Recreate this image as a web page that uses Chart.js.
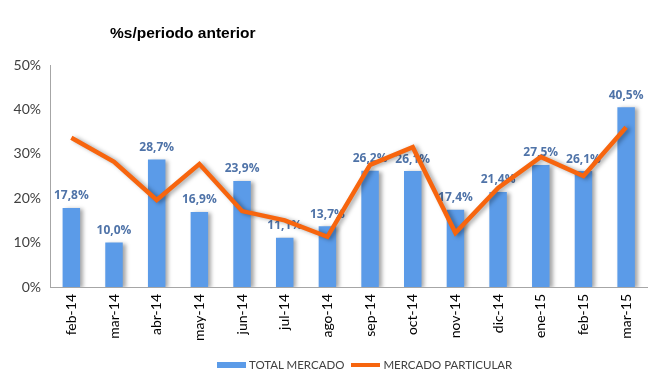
<!DOCTYPE html>
<html>
<head>
<meta charset="utf-8">
<script src="https://cdn.jsdelivr.net/npm/chart.js@4.4.1/dist/chart.umd.min.js"></script>
<style>
    body { margin: 0; background: #fff; }
    #wrap { position: relative; width: 650px; height: 388px; }
    #title { position: absolute; left: 110px; top: 24px; font: bold 15.5px "Liberation Sans", Arial, sans-serif; color: #000; }
    #legend { position: absolute; left: 217px; top: 358px; font: 11.5px Lato, sans-serif; color: #404040; display: flex; align-items: center; }
    .sw { display: inline-block; width: 29px; margin-right: 3px; }
</style>
</head>
<body>
<div id="wrap">
    <canvas id="chart" width="650" height="388"></canvas>
    <div id="title">%s/periodo anterior</div>
    <div id="legend">
        <span class="sw" style="height:6px;background:#5b9be8"></span><span>TOTAL MERCADO</span>
        <span class="sw" style="height:4px;background:#f7650e;margin-left:7px"></span><span>MERCADO PARTICULAR</span>
    </div>
</div>
<script>
const months = ["feb-14", "mar-14", "abr-14", "may-14", "jun-14", "jul-14", "ago-14", "sep-14", "oct-14", "nov-14", "dic-14", "ene-15", "feb-15", "mar-15"];
const totalMercado = [17.8, 10.0, 28.7, 16.9, 23.9, 11.1, 13.7, 26.2, 26.1, 17.4, 21.4, 27.5, 26.1, 40.5];
const mercadoParticular = [33.6, 28.2, 19.6, 27.7, 17.1, 15.0, 11.3, 27.5, 31.5, 12.2, 22.3, 29.3, 25.0, 36.0];
const yTicks = [0, 10, 20, 30, 40, 50];

const fmt = v => v.toFixed(1).replace('.', ',') + '%';

// sombra suave para barras y linea
const shadowPlugin = {
    id: 'shadow',
    beforeDatasetDraw(chart) {
        const ctx = chart.ctx;
        ctx.save();
        ctx.shadowColor = 'rgba(0,0,0,0.35)';
        ctx.shadowBlur = 4;
        ctx.shadowOffsetX = 3;
        ctx.shadowOffsetY = 1;
    },
    afterDatasetDraw(chart) {
        chart.ctx.restore();
    }
};

const labelPlugin = {
    id: 'barLabels',
    afterDatasetDraw(chart, args) {
        if (args.index !== 0) return;
        const ctx = chart.ctx;
        ctx.save();
        ctx.font = 'bold 12px "Open Sans", sans-serif';
        ctx.fillStyle = '#4f73a8';
        ctx.textAlign = 'center';
        ctx.textBaseline = 'bottom';
        args.meta.data.forEach((bar, i) => {
            ctx.fillText(fmt(totalMercado[i]), bar.x, bar.y - 6);
        });
        ctx.restore();
    }
};

new Chart(document.getElementById('chart'), {
    type: 'bar',
    data: {
        labels: months,
        datasets: [
            {
                label: 'TOTAL MERCADO',
                data: totalMercado,
                backgroundColor: '#5b9be8',
                barPercentage: 0.41,
                categoryPercentage: 1,
                order: 1
            },
            {
                type: 'line',
                label: 'MERCADO PARTICULAR',
                data: mercadoParticular,
                borderColor: '#f7650e',
                borderWidth: 4.5,
                pointRadius: 0,
                tension: 0,
                order: 0
            }
        ]
    },
    plugins: [shadowPlugin, labelPlugin],
    options: {
        responsive: false,
        animation: false,
        layout: { padding: { top: 65, right: 2, bottom: 40, left: 0 } },
        plugins: { legend: { display: false }, tooltip: { enabled: false } },
        scales: {
            x: {
                grid: { display: false, drawTicks: false },
                border: { color: '#a6a6a6' },
                ticks: { color: '#000', font: { family: 'Lato', size: 14 }, minRotation: 90, maxRotation: 90, padding: 7 },
                afterFit: s => { s.height = 61; }
            },
            y: {
                min: 0,
                max: 50,
                afterBuildTicks: s => { s.ticks = yTicks.map(v => ({ value: v })); },
                grid: { display: false, drawOnChartArea: false, drawTicks: true, tickLength: 6, color: '#a6a6a6' },
                border: { color: '#a6a6a6' },
                ticks: { color: '#404040', font: { family: 'Lato', size: 14 }, padding: 3, callback: v => v + '%' },
                afterFit: s => { s.width = 50; }
            }
        }
    }
});
</script>
</body>
</html>
